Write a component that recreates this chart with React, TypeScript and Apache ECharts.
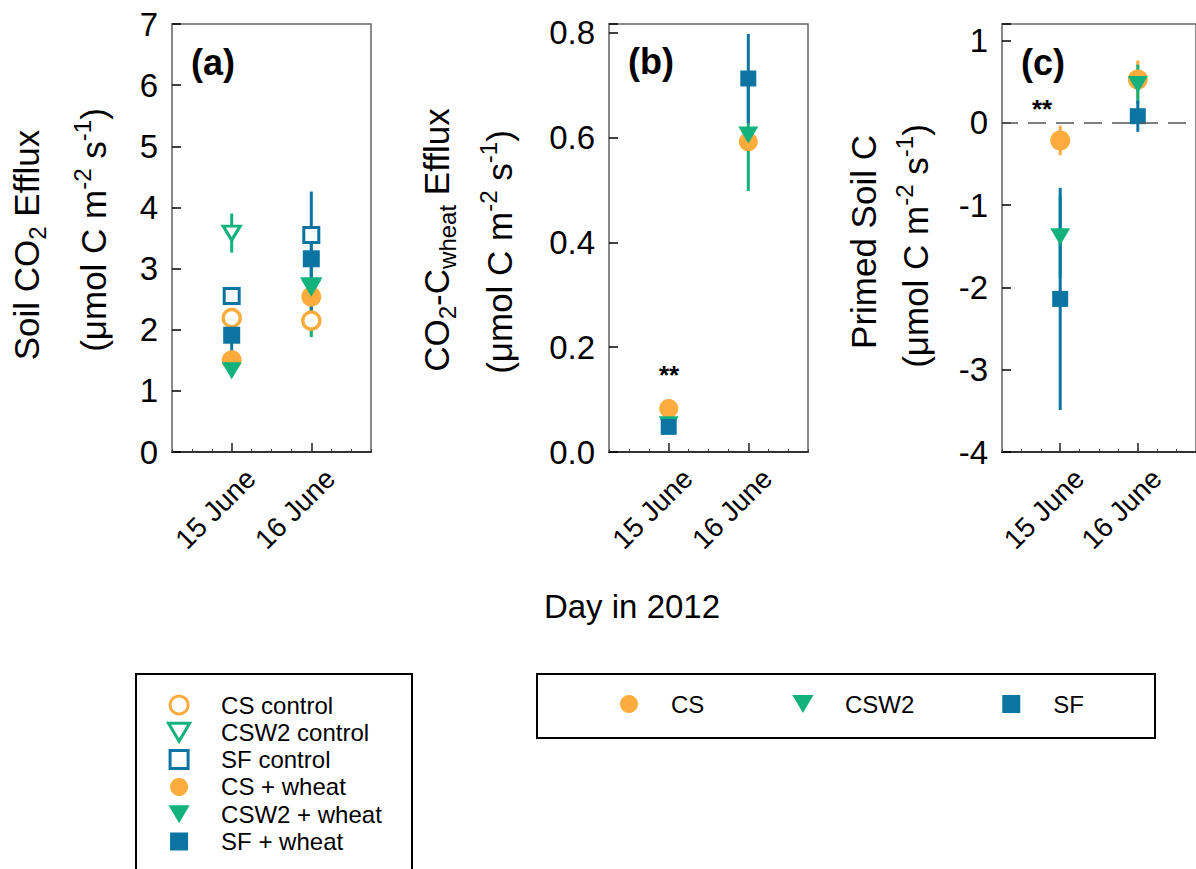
import React, { useEffect, useRef } from 'react';
import * as echarts from 'echarts';

const FF = '"Liberation Sans", Arial, Helvetica, sans-serif';

// categories (x positions on a value axis)
const days = ['15 June', '16 June'];
const dayPos = [1, 2];

// Panel (a): Soil CO2 efflux
const csControl = [2.19, 2.15];
const csControlErr = [0.08, 0.25];
const csw2Control = [3.58, 2.72];
const csw2ControlErr = [0.32, 0.3];
const sfControl = [2.55, 3.55];
const sfControlErr = [0.06, 0.1];
const csWheat = [1.5, 2.54];
const csWheatErr = [0.08, 0.1];
const csw2Wheat = [1.33, 2.68];
const csw2WheatErr = [0.1, 0.8];
const sfWheat = [1.91, 3.16];
const sfWheatErr = [0.3, 1.1];

// Panel (b): CO2-C wheat efflux
const csB = [0.083, 0.592];
const csBErr = [0.005, 0.02];
const csw2B = [0.052, 0.605];
const csw2BErr = [0.005, 0.107];
const sfB = [0.048, 0.713];
const sfBErr = [0.005, 0.085];

// Panel (c): Primed soil C
const csC = [-0.215, 0.526];
const csCErr = [0.18, 0.23];
const csw2C = [-1.385, 0.465];
const csw2CErr = [0.5, 0.24];
const sfC = [-2.14, 0.08];
const sfCErr = [1.35, 0.19];

// axis ranges
const yA = [0, 7, 1];
const yB = [0, 0.817, 0.2];
const yC = [-4, 1.2, 1];

const ORANGE = '#FBAC3C';
const GREEN = '#13B27D';
const BLUE = '#0C74A2';

const CIRCLE = 'circle';
const SQUARE = 'path://M0,0L10,0L10,10L0,10Z';
const TRI = 'path://M0,0L20,0L10,17Z';

function errSeries(name: string, color: string, xi: number, yi: number, vals: number[], errs: number[]) {
  return {
    type: 'custom',
    name: name + ' err',
    xAxisIndex: xi,
    yAxisIndex: yi,
    silent: true,
    encode: { x: 0, y: 1 },
    data: dayPos.map((x, i) => [x, vals[i], errs[i]]),
    renderItem: (_p: any, api: any) => {
      const x = api.value(0);
      const y = api.value(1);
      const e = api.value(2);
      const p1 = api.coord([x, y - e]);
      const p2 = api.coord([x, y + e]);
      return {
        type: 'line',
        shape: { x1: p1[0], y1: p1[1], x2: p2[0], y2: p2[1] },
        style: { stroke: color, lineWidth: 3 },
      };
    },
  };
}

function ptSeries(name: string, symbol: string, size: any, itemStyle: any, xi: number, yi: number, vals: number[], extra: any = {}) {
  return {
    type: 'scatter',
    name,
    xAxisIndex: xi,
    yAxisIndex: yi,
    symbol,
    symbolSize: size,
    itemStyle: { opacity: 1, ...itemStyle },
    emphasis: { disabled: true },
    data: dayPos.map((x, i) => [x, vals[i]]),
    ...extra,
  };
}

const open = (c: string) => ({ color: '#fff', borderColor: c, borderWidth: 3 });
const fill = (c: string) => ({ color: c });

function xMajor(gi: number) {
  return {
    type: 'value',
    gridIndex: gi,
    min: 0.25,
    max: 2.75,
    position: 'bottom',
    axisLine: { show: true, onZero: false, lineStyle: { color: '#333', width: 2 } },
    axisTick: { show: true, inside: true, length: 9, customValues: dayPos, lineStyle: { color: '#222', width: 1.5 } },
    axisLabel: {
      show: true,
      customValues: dayPos,
      formatter: (v: number) => {
        const i = dayPos.indexOf(v);
        return i >= 0 ? days[i] : '';
      },
      rotate: 45,
      fontSize: 28,
      color: '#000',
      fontFamily: FF,
      verticalAlign: 'top',
      padding: [0, -13, 0, 0],
      margin: 21,
    },
    splitLine: { show: false },
  };
}

function xMinor(gi: number) {
  return {
    type: 'value',
    gridIndex: gi,
    min: 0.25,
    max: 2.75,
    interval: 0.25,
    position: 'bottom',
    axisLine: { show: false, onZero: false },
    axisTick: { show: true, inside: true, length: 3, lineStyle: { color: '#444', width: 1 } },
    axisLabel: { show: false },
    splitLine: { show: false },
  };
}

function yAxis(gi: number, r: number[], digits: number) {
  const [min, max, interval] = r;
  return {
    type: 'value',
    gridIndex: gi,
    min,
    max,
    interval,
    axisLine: { show: true, onZero: false, lineStyle: { color: '#888', width: 2 } },
    axisTick: { show: true, inside: true, length: 9, lineStyle: { color: '#000', width: 1.5 } },
    axisLabel: {
      fontSize: 33,
      color: '#000',
      fontFamily: FF,
      margin: 14,
      formatter: (v: number) => {
        const k = v / interval;
        if (Math.abs(k - Math.round(k)) > 1e-6) return '';
        return v.toFixed(digits);
      },
    },
    splitLine: { show: false },
  };
}

const rich = {
  t: { fontSize: 35, lineHeight: 46, fontFamily: FF, fill: '#000' },
  sub: { fontSize: 24, lineHeight: 24, verticalAlign: 'bottom', fontFamily: FF, fill: '#000' },
  sup: { fontSize: 24, lineHeight: 28, verticalAlign: 'top', fontFamily: FF, fill: '#000' },
};

function vText(x: number, y: number, text: string) {
  return {
    type: 'text',
    x,
    y,
    rotation: Math.PI / 2,
    style: { text, rich, fill: '#000', fontFamily: FF, fontSize: 35, align: 'center', verticalAlign: 'middle' },
  };
}

function plainText(x: number, y: number, text: string, size: number, weight = 'normal') {
  return {
    type: 'text',
    x,
    y,
    style: { text, fill: '#000', fontFamily: FF, fontSize: size, fontWeight: weight, align: 'center', verticalAlign: 'middle' },
  };
}

const unitLine = '{t|(\u03bcmol C m}{sup|-2}{t| s}{sup|-1}{t|)}';

export default function App() {
  const ref = useRef<HTMLDivElement>(null);
  useEffect(() => {
    if (!ref.current) return;
    const chart = echarts.init(ref.current, undefined, { renderer: 'svg' });
    const series: any[] = [
      // (a)
      errSeries('CS control', ORANGE, 0, 0, csControl, csControlErr),
      ptSeries('CS control', CIRCLE, 17, { ...open(ORANGE), borderWidth: 3.5 }, 0, 0, csControl),
      errSeries('CS + wheat', ORANGE, 0, 0, csWheat, csWheatErr),
      ptSeries('CS + wheat', CIRCLE, 20, fill(ORANGE), 0, 0, csWheat),
      errSeries('CSW2 control', GREEN, 0, 0, csw2Control, csw2ControlErr),
      ptSeries('CSW2 control', TRI, [17, 14], open(GREEN), 0, 0, csw2Control),
      errSeries('CSW2 + wheat', GREEN, 0, 0, csw2Wheat, csw2WheatErr),
      ptSeries('CSW2 + wheat', TRI, [20, 17], fill(GREEN), 0, 0, csw2Wheat),
      errSeries('SF control', BLUE, 0, 0, sfControl, sfControlErr),
      ptSeries('SF control', SQUARE, 15, open(BLUE), 0, 0, sfControl),
      errSeries('SF + wheat', BLUE, 0, 0, sfWheat, sfWheatErr),
      ptSeries('SF + wheat', SQUARE, 17, fill(BLUE), 0, 0, sfWheat),
      // (b)
      errSeries('CS b', ORANGE, 2, 1, csB, csBErr),
      ptSeries('CS', CIRCLE, 19, fill(ORANGE), 2, 1, csB),
      errSeries('CSW2 b', GREEN, 2, 1, csw2B, csw2BErr),
      ptSeries('CSW2', TRI, [20, 17], fill(GREEN), 2, 1, csw2B),
      errSeries('SF b', BLUE, 2, 1, sfB, sfBErr),
      ptSeries('SF', SQUARE, 16, fill(BLUE), 2, 1, sfB),
      // (c)
      errSeries('CS c', ORANGE, 4, 2, csC, csCErr),
      ptSeries('CS', CIRCLE, 20, fill(ORANGE), 4, 2, csC, {
        markLine: {
          silent: true,
          symbol: ['none', 'none'],
          label: { show: false },
          lineStyle: { color: '#555', type: [18, 10], dashOffset: 2, width: 1.5 },
          data: [{ yAxis: 0 }],
        },
      }),
      errSeries('CSW2 c', GREEN, 4, 2, csw2C, csw2CErr),
      ptSeries('CSW2', TRI, [20, 17], fill(GREEN), 4, 2, csw2C),
      errSeries('SF c', BLUE, 4, 2, sfC, sfCErr),
      ptSeries('SF', SQUARE, 16, fill(BLUE), 4, 2, sfC),
    ];

    const legendText = { fontSize: 24, lineHeight: 24, color: '#000', fontFamily: FF };

    chart.setOption({
      animation: false,
      textStyle: { fontFamily: FF },
      grid: [
        { left: 172, top: 24, width: 199, height: 428, show: true, borderColor: '#666', borderWidth: 1.5 },
        { left: 609, top: 24, width: 199, height: 428, show: true, borderColor: '#666', borderWidth: 1.5 },
        { left: 1002, top: 24, width: 199, height: 428, show: true, borderColor: '#666', borderWidth: 1.5 },
      ],
      xAxis: [xMajor(0), xMinor(0), xMajor(1), xMinor(1), xMajor(2), xMinor(2)],
      yAxis: [yAxis(0, yA, 0), yAxis(1, yB, 1), yAxis(2, yC, 0)],
      legend: [
        {
          orient: 'vertical',
          left: 167,
          top: 693,
          padding: 0,
          itemWidth: 74,
          itemHeight: 18,
          itemGap: 3.3,
          selectedMode: false,
          textStyle: legendText,
          data: [
            { name: 'CS control', icon: 'circle', itemStyle: { color: '#fff', borderColor: ORANGE, borderWidth: 3, opacity: 1 } },
            { name: 'CSW2 control', icon: 'path://M0,0L20,0L10,17Z', itemStyle: { color: '#fff', borderColor: GREEN, borderWidth: 3, opacity: 1 } },
            { name: 'SF control', icon: SQUARE, itemStyle: { color: '#fff', borderColor: BLUE, borderWidth: 3, opacity: 1 } },
            { name: 'CS + wheat', icon: 'circle', itemStyle: { color: ORANGE, borderWidth: 0, opacity: 1 } },
            { name: 'CSW2 + wheat', icon: TRI, itemStyle: { color: GREEN, borderWidth: 0, opacity: 1 } },
            { name: 'SF + wheat', icon: SQUARE, itemStyle: { color: BLUE, borderWidth: 0, opacity: 1 } },
          ],
        },
        {
          orient: 'horizontal',
          left: 620,
          top: 692,
          padding: 0,
          itemWidth: 74,
          itemHeight: 18,
          itemGap: 88,
          selectedMode: false,
          textStyle: legendText,
          data: [
            { name: 'CS', icon: 'circle', itemStyle: { color: ORANGE, borderWidth: 0, opacity: 1 } },
            { name: 'CSW2', icon: TRI, itemStyle: { color: GREEN, borderWidth: 0, opacity: 1 } },
            { name: 'SF', icon: SQUARE, itemStyle: { color: BLUE, borderWidth: 0, opacity: 1 } },
          ],
        },
      ],
      graphic: {
        elements: [
          { type: 'rect', shape: { x: 136, y: 674, width: 276, height: 220 }, style: { fill: 'none', stroke: '#000', lineWidth: 2 } },
          { type: 'rect', shape: { x: 537, y: 674, width: 618, height: 64 }, style: { fill: 'none', stroke: '#000', lineWidth: 2 } },
          vText(26, 245, '{t|Soil CO}{sub|2}{t| Efflux}'),
          vText(93, 230, unitLine),
          vText(436, 240, '{t|CO}{sub|2}{t|-C}{sub|wheat}{t| Efflux}'),
          vText(499, 252, unitLine),
          vText(863, 242, '{t|Primed Soil C}'),
          vText(915, 246, unitLine),
          plainText(213, 62, '(a)', 36, 'bold'),
          plainText(651, 61, '(b)', 36, 'bold'),
          plainText(1043, 62, '(c)', 36, 'bold'),
          plainText(669, 375, '**', 26, 'bold'),
          plainText(1042, 109, '**', 26, 'bold'),
          plainText(632, 606, 'Day in 2012', 33),
        ],
      },
      series,
    });
    return () => chart.dispose();
  }, []);
  return <div ref={ref} style={{ position: 'absolute', left: 0, top: 0, width: 1196, height: 869 }} />;
}
